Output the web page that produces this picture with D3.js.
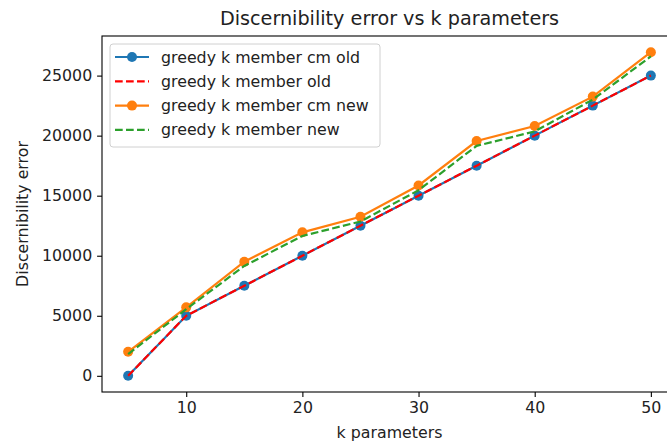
<!DOCTYPE html>
<html>
<head>
<meta charset="utf-8">
<script src="https://d3js.org/d3.v7.min.js"></script>
<style>
  body { margin: 0; background: #fff; }
  svg { display: block; font-family: "DejaVu Sans", sans-serif; }
</style>
</head>
<body>
<script>
// k waarden en de vier series
var kValues = [5, 10, 15, 20, 25, 30, 35, 40, 45, 50]
var cmOld = [0, 5000, 7500, 10000, 12500, 15000, 17500, 20000, 22500, 25000]
var old = [0, 5000, 7500, 10000, 12500, 15000, 17500, 20000, 22500, 25000]
var cmNew = [2000, 5700, 9500, 11950, 13250, 15850, 19550, 20800, 23250, 26950]
var newVals = [1800, 5550, 9150, 11650, 12850, 15450, 19150, 20350, 23000, 26600]
var xTicks = [10, 20, 30, 40, 50]
var yTicks = [0, 5000, 10000, 15000, 20000, 25000]

var series = [
  {name: "greedy k member cm old", values: cmOld, color: "#1f77b4", dash: null, marker: true},
  {name: "greedy k member old", values: old, color: "#ff0000", dash: "7.7,3.3", marker: false},
  {name: "greedy k member cm new", values: cmNew, color: "#ff7f0e", dash: null, marker: true},
  {name: "greedy k member new", values: newVals, color: "#2ca02c", dash: "7.7,3.3", marker: false}
]

var width = 667
var height = 444
var margin = {top: 36, left: 102}
var plotW = 575
var plotH = 356
var fontSize = "15.8px"

var svg = d3.select("body").append("svg")
    .attr("width", width)
    .attr("height", height)

var g = svg.append("g")
    .attr("transform", `translate(${margin.left},${margin.top})`)

// matplotlib marge van 5%
var xMin = d3.min(kValues), xMax = d3.max(kValues)
var xPad = (xMax - xMin) * 0.05
var allY = cmOld.concat(old, cmNew, newVals)
var yMin = d3.min(allY), yMax = d3.max(allY)
var yPad = (yMax - yMin) * 0.05

var x = d3.scaleLinear().domain([xMin - xPad, xMax + xPad]).range([0, plotW])
var y = d3.scaleLinear().domain([yMin - yPad, yMax + yPad]).range([plotH, 0])

var line = d3.line()
    .x(d => x(d.k))
    .y(d => y(d.v))

series.forEach(s => {
  var pts = kValues.map((k, i) => ({k: k, v: s.values[i]}))
  g.append("path")
    .datum(pts)
    .attr("fill", "none")
    .attr("stroke", s.color)
    .attr("stroke-width", 2.2)
    .attr("stroke-dasharray", s.dash)
    .attr("d", line)
  if (s.marker) {
    g.selectAll(null)
      .data(pts)
      .enter().append("circle")
      .attr("cx", d => x(d.k))
      .attr("cy", d => y(d.v))
      .attr("r", 5)
      .attr("fill", s.color)
  }
})

// assen
var xAxis = d3.axisBottom(x).tickValues(xTicks).tickSize(4.9).tickPadding(4.9).tickSizeOuter(0).tickFormat(d3.format("d"))
var yAxis = d3.axisLeft(y).tickValues(yTicks).tickSize(4.9).tickPadding(4.9).tickSizeOuter(0).tickFormat(d3.format("d"))

var gx = g.append("g")
    .attr("transform", `translate(0,${plotH})`)
    .call(xAxis)
var gy = g.append("g").call(yAxis)

;[gx, gy].forEach(a => {
  a.select(".domain").remove()
  a.selectAll("line").attr("stroke", "#000").attr("stroke-width", 1.1)
  a.selectAll("text").attr("fill", "#222").style("font-size", fontSize).style("font-family", "DejaVu Sans")
})

// kader
g.append("rect")
    .attr("width", plotW)
    .attr("height", plotH)
    .attr("fill", "none")
    .attr("stroke", "#000")
    .attr("stroke-width", 1.1)

// titels
svg.append("text")
    .attr("x", margin.left + plotW / 2)
    .attr("y", 25)
    .attr("text-anchor", "middle")
    .attr("fill", "#222")
    .style("font-size", "19.2px")
    .text("Discernibility error vs k parameters")

svg.append("text")
    .attr("x", margin.left + plotW / 2)
    .attr("y", 438)
    .attr("text-anchor", "middle")
    .attr("fill", "#222")
    .style("font-size", fontSize)
    .text("k parameters")

svg.append("text")
    .attr("transform", `translate(28,${margin.top + plotH / 2}) rotate(-90)`)
    .attr("text-anchor", "middle")
    .attr("fill", "#222")
    .style("font-size", fontSize)
    .text("Discernibility error")

// legenda
var legend = g.append("g").attr("transform", "translate(8,8)")
legend.append("rect")
    .attr("width", 270)
    .attr("height", 103)
    .attr("rx", 3)
    .attr("fill", "#fff")
    .attr("fill-opacity", 0.8)
    .attr("stroke", "#d0d0d0")

var item = legend.selectAll(".legend")
    .data(series)
    .enter().append("g")
    .attr("class", "legend")
    .attr("transform", (d, i) => `translate(0,${13 + i * 24.3})`)

item.append("line")
    .attr("x1", 5)
    .attr("x2", 39)
    .attr("stroke", d => d.color)
    .attr("stroke-width", 2.2)
    .attr("stroke-dasharray", d => d.dash)

item.filter(d => d.marker).append("circle")
    .attr("cx", 22)
    .attr("r", 5)
    .attr("fill", d => d.color)

item.append("text")
    .attr("x", 51)
    .attr("dy", "0.35em")
    .style("font-size", fontSize)
    .attr("fill", "#222")
    .text(d => d.name)
</script>
</body>
</html>
